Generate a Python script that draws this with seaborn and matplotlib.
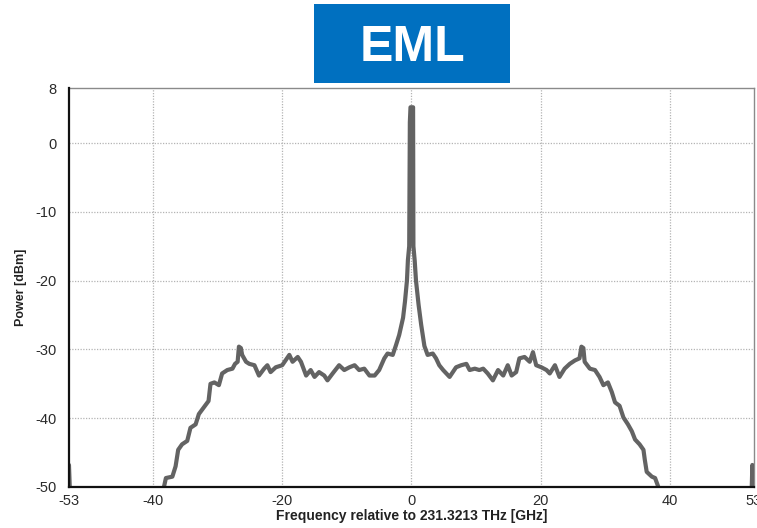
import matplotlib
matplotlib.use("Agg")
import matplotlib.pyplot as plt
from matplotlib.patches import Rectangle
import pandas as pd
import seaborn as sns

# Optical spectrum of the EML transmitter (values below -52 sit under the display floor)
freq_ghz = [
    -53.0, -52.8, -38.5, -38.3, -38.0, -37.0, -36.5, -36.1, -35.5, -34.7,
    -34.2, -33.4, -32.9, -32.1, -31.4, -31.1, -30.5, -29.8, -29.3, -28.5,
    -27.7, -27.3, -26.9, -26.7, -26.4, -26.2, -25.6, -25.1, -24.3, -23.6,
    -22.8, -22.3, -21.8, -21.0, -20.0, -18.9, -18.4, -17.6, -17.1, -16.3,
    -15.6, -15.0, -14.3, -13.5, -13.0, -12.2, -11.2, -10.4, -9.6, -8.8,
    -8.1, -7.3, -6.5, -5.7, -5.0, -4.2, -3.7, -2.9, -2.4, -1.9,
    -1.3, -1.0, -0.7, -0.55, -0.35, -0.25, -0.15, 0.25, 0.3, 0.5,
    0.7, 1.1, 1.5, 2.0, 2.5, 3.3, 3.8, 4.3, 4.9, 5.9,
    6.4, 6.9, 7.7, 8.5, 9.0, 9.8, 10.5, 11.1, 11.8, 12.6,
    13.4, 14.2, 14.9, 15.5, 16.2, 16.7, 17.5, 18.3, 18.8, 19.3,
    20.1, 20.9, 21.4, 22.2, 22.9, 23.7, 24.5, 25.3, 26.0, 26.3,
    26.6, 26.8, 27.6, 28.4, 29.1, 29.7, 30.4, 31.0, 31.5, 32.2,
    32.8, 33.5, 34.1, 34.6, 35.3, 35.9, 36.1, 36.4, 37.2, 37.7,
    38.2, 38.4, 52.6, 52.75, 52.9,
]
power_dbm = [
    -46.8, -52.0, -52.0, -50.0, -48.7, -48.5, -47.0, -44.6, -43.8, -43.3,
    -41.4, -40.9, -39.4, -38.4, -37.5, -35.0, -34.8, -35.2, -33.5, -33.0,
    -32.8, -32.1, -31.8, -29.6, -29.8, -30.8, -31.8, -32.1, -32.3, -33.8,
    -32.8, -32.3, -33.3, -32.6, -32.3, -30.8, -31.8, -31.1, -31.8, -33.8,
    -33.0, -34.0, -33.3, -33.8, -34.5, -33.5, -32.3, -33.0, -32.6, -32.3,
    -33.0, -32.8, -33.8, -33.8, -33.0, -31.3, -30.6, -30.8, -29.4, -27.9,
    -25.4, -23.0, -20.0, -17.0, -15.0, 3.0, 5.2, 5.2, -15.0, -17.1,
    -20.0, -23.5, -26.4, -29.5, -30.8, -30.6, -31.3, -32.3, -33.0, -34.0,
    -33.3, -32.6, -32.3, -32.1, -33.0, -32.8, -33.0, -32.8, -33.5, -34.5,
    -33.0, -33.8, -32.3, -33.8, -33.3, -31.3, -31.1, -31.8, -30.4, -32.3,
    -32.6, -33.0, -33.5, -32.3, -34.0, -32.8, -32.1, -31.6, -31.3, -29.6,
    -29.8, -31.8, -32.8, -33.0, -34.0, -35.2, -34.8, -36.2, -37.7, -38.2,
    -39.9, -40.9, -41.9, -43.1, -43.8, -44.6, -46.0, -47.8, -48.5, -48.7,
    -50.0, -52.0, -52.0, -46.8, -52.0,
]

x_ticks = [-53, -40, -20, 0, 20, 40, 53]
y_ticks = [8, 0, -10, -20, -30, -40, -50]
x_grid = [-40, -20, 0, 20, 40]
y_grid = [0, -10, -20, -30, -40]

title_text = "EML"
x_label = "Frequency relative to 231.3213 THz [GHz]"
y_label = "Power [dBm]"

sns.set_theme(style="white")
plt.rcParams["font.family"] = ["Liberation Sans", "DejaVu Sans"]

df = pd.DataFrame({"freq": freq_ghz, "power": power_dbm})

fig = plt.figure(figsize=(7.57, 5.28), dpi=100)
ax = fig.add_axes([0.0911, 0.0777, 0.9049, 0.7556])

# dotted grid drawn by hand so only the inner lines show
for gx in x_grid:
    ax.axvline(gx, color="#b4b4b4", lw=0.9, ls=(0, (1, 1.2)), zorder=0)
for gy in y_grid:
    ax.axhline(gy, color="#b4b4b4", lw=0.9, ls=(0, (1, 1.2)), zorder=0)

sns.lineplot(data=df, x="freq", y="power", sort=False, estimator=None,
             color="#636363", lw=3.0, ax=ax, zorder=3)

ax.set_xlim(-53, 53)
ax.set_ylim(-50, 8)
ax.set_xticks(x_ticks)
ax.set_xticklabels([str(v) for v in x_ticks])
ax.set_yticks(y_ticks)
ax.set_yticklabels([str(v) for v in y_ticks])
ax.tick_params(axis="both", labelsize=10.5, labelcolor="#2a2a2a",
               length=5, width=0.8, color="#b4b4b4", direction="out")
ax.tick_params(axis="x", pad=0)
ax.tick_params(axis="y", pad=4)

ax.set_xlabel(x_label, fontsize=10, fontweight="bold", color="#222222", labelpad=1)
ax.set_ylabel(y_label, fontsize=9, fontweight="bold", color="#222222", labelpad=6)

for side in ("top", "right"):
    ax.spines[side].set_color("#8a8a8a")
    ax.spines[side].set_linewidth(1.0)
for side in ("left", "bottom"):
    ax.spines[side].set_color("#111111")
    ax.spines[side].set_linewidth(1.6)
    ax.spines[side].set_zorder(4)

# title badge
fig.patches.append(Rectangle((0.4148, 0.8428), 0.2589, 0.1496,
                             transform=fig.transFigure, facecolor="#0070C0",
                             edgecolor="none"))
fig.text(0.5443, 0.910, title_text, color="white", fontsize=36,
         fontweight="bold", ha="center", va="center")

fig.savefig("out.png", dpi=100)
